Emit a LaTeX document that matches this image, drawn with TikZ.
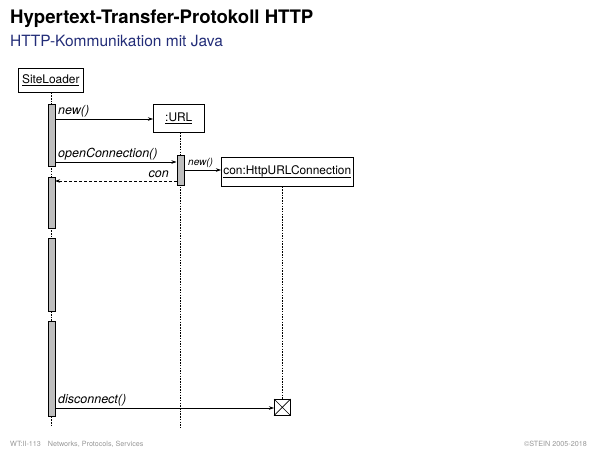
\documentclass[tikz,border=0pt]{standalone}
\usepackage{fontspec}
\setmainfont{TeX Gyre Heros}
\usetikzlibrary{arrows.meta}
\definecolor{subblue}{RGB}{35,45,120}
\definecolor{bargray}{RGB}{190,190,190}
\definecolor{footgray}{RGB}{150,150,150}
\newcommand{\ulbox}[1]{\setbox0\hbox{#1}\rlap{\rule[-2.6pt]{\wd0}{0.8pt}}\box0}
\tikzset{
  objbox/.style={draw, line width=0.6pt, inner sep=0pt, anchor=north west, font=\fontsize{11.9}{14}\selectfont},
  lifeline/.style={line width=0.5pt, dash pattern=on 1.5pt off 1.2pt},
  actbar/.style={draw, fill=bargray, line width=0.6pt},
  msg/.style={line width=0.6pt, -{Stealth[length=5pt,width=3.5pt]}},
  retmsg/.style={line width=0.6pt, dash pattern=on 3pt off 2pt, -{Stealth[length=5pt,width=3.5pt]}},
  lbl/.style={font=\fontsize{12.5}{14}\selectfont\itshape, inner sep=0pt},
  smalllbl/.style={font=\fontsize{10}{12}\selectfont\itshape, inner sep=0pt},
}
\begin{document}
\begin{tikzpicture}[x=1pt,y=-1pt]
\useasboundingbox (0,0) rectangle (600,450);
% title
\node[anchor=base west, inner sep=0pt, font=\fontsize{18.6}{21}\selectfont\bfseries] (title) at (10,23) {Hypertext-Transfer-Protokoll HTTP};
\node[anchor=base west, inner sep=0pt, font=\fontsize{15.5}{18}\selectfont, text=subblue] (subtitle) at (10,46) {HTTP-Kommunikation mit Java};
% objects
\node[objbox, minimum width=65pt, minimum height=24pt] (sl) at (18,68) {\ulbox{SiteLoader}};
\node[objbox, minimum width=51pt, minimum height=28pt] (url) at (153,104) {\ulbox{:URL}};
\node[objbox, minimum width=132pt, minimum height=29pt] (con) at (221,157) {\ulbox{con:HttpURLConnection}};
% lifelines
\coordinate (slend) at (51,427);
\coordinate (urlend) at (180,427);
\draw[lifeline] (sl.south -| slend) -- (slend);
\draw[lifeline] (url.south -| urlend) -- (urlend);
% destroy
\node[draw, line width=0.6pt, minimum size=16pt, inner sep=0pt, anchor=north west] (kill) at (274,399) {};
\draw[line width=0.6pt] (kill.north west) -- (kill.south east) (kill.north east) -- (kill.south west);
\draw[lifeline] (con.south -| kill.north) -- (kill.north);
% activation bars
\node[actbar, anchor=north west, minimum width=7pt, minimum height=62pt, inner sep=0pt] (b1) at (47.5,104) {};
\node[actbar, anchor=north west, minimum width=7pt, minimum height=51pt, inner sep=0pt] (b2) at (47.5,177) {};
\node[actbar, anchor=north west, minimum width=7pt, minimum height=73pt, inner sep=0pt] (b3) at (47.5,238) {};
\node[actbar, anchor=north west, minimum width=7pt, minimum height=95pt, inner sep=0pt] (b4) at (47.5,321) {};
\node[actbar, anchor=north west, minimum width=7pt, minimum height=30pt, inner sep=0pt] (ub) at (176.5,155) {};
% messages
\coordinate (m1) at (0,119);
\draw[msg] (b1.east |- m1) -- (url.west |- m1);
\node[lbl, anchor=base west] (l1) at (58,114) {new()};
\coordinate (m2) at (0,162);
\draw[msg] (b1.east |- m2) -- (ub.west |- m2);
\node[lbl, anchor=base west] (l2) at (58,157) {openConnection()};
\coordinate (m3) at (0,170);
\draw[msg] (ub.east |- m3) -- (con.west |- m3);
\node[smalllbl, anchor=base west] (l3) at (188,165.5) {new()};
\coordinate (m4) at (0,181);
\draw[retmsg] (ub.west |- m4) -- (b2.east |- m4);
\node[lbl, anchor=base east] (l4) at (169,177) {con};
\coordinate (m5) at (0,408);
\draw[msg] (b4.east |- m5) -- (kill.west |- m5);
\node[lbl, anchor=base west] (l5) at (58,403) {disconnect()};
% footer
\node[anchor=base west, inner sep=0pt, font=\fontsize{7.2}{8}\selectfont, text=footgray] (f1) at (10,446) {WT:II-113\hspace{7pt}Networks, Protocols, Services};
\node[anchor=base east, inner sep=0pt, font=\fontsize{7.2}{8}\selectfont, text=footgray] (f2) at (587,446) {©STEIN 2005-2018};
\end{tikzpicture}
\end{document}
